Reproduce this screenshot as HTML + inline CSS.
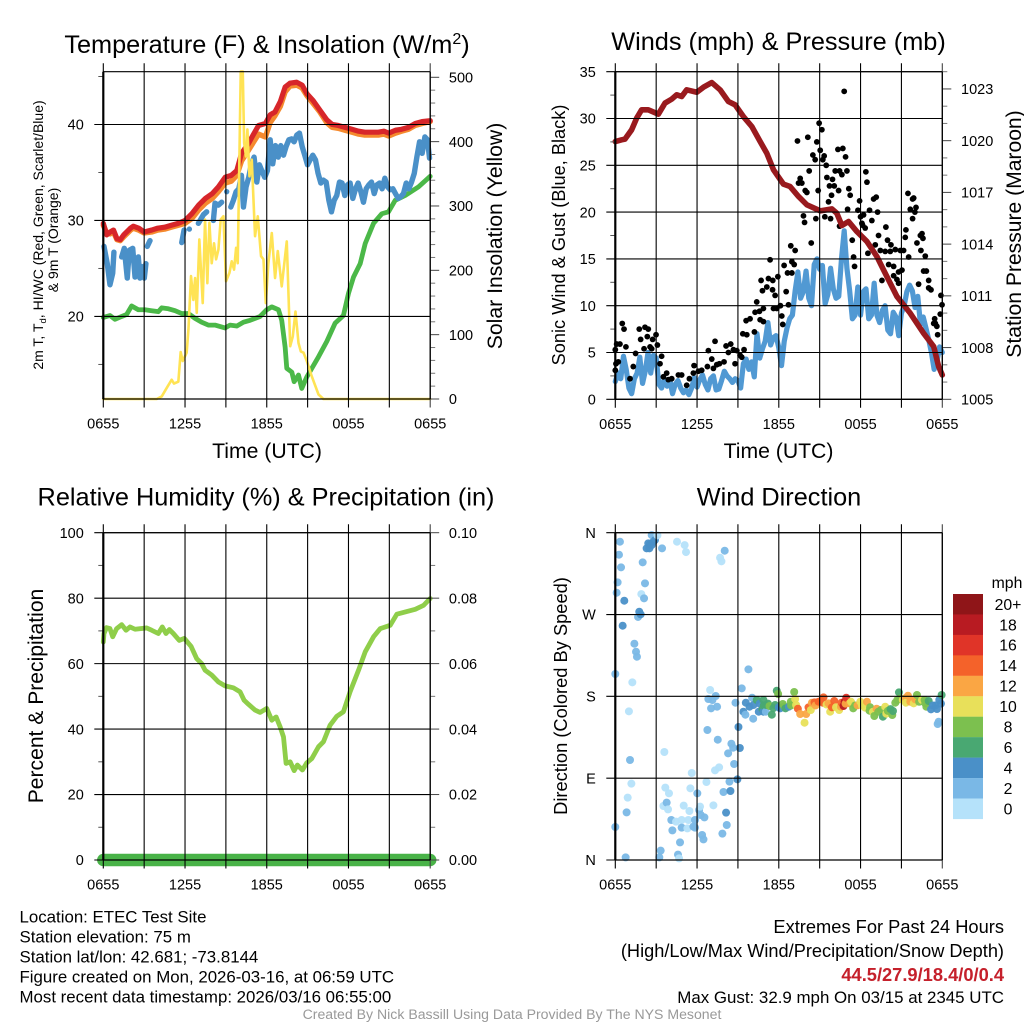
<!DOCTYPE html>
<html lang="en">
<head>
<meta charset="utf-8">
<title>ETEC Test Site Meteogram</title>
<style>
html,body{margin:0;padding:0;background:#fff}
svg{display:block}
text{font-family:"Liberation Sans",Arial,sans-serif;fill:#000}
</style>
</head>
<body>
<svg id="chart" xmlns="http://www.w3.org/2000/svg" width="1024" height="1024" viewBox="0 0 1024 1024">
<rect x="0" y="0" width="1024" height="1024" fill="#fff"/>
<g id="p1"></g>
<g id="p2"></g>
<g id="p3"></g>
<g id="p4"></g>
<g id="legend"></g>

<text x="267" y="53" font-size="25.3" text-anchor="middle">Temperature (F) &amp; Insolation (W/m<tspan dy="-9" font-size="16">2</tspan><tspan dy="9">)</tspan></text>
<text x="778.5" y="50" font-size="25.3" text-anchor="middle">Winds (mph) &amp; Pressure (mb)</text>
<text x="266" y="505.5" font-size="25.3" text-anchor="middle">Relative Humidity (%) &amp; Precipitation (in)</text>
<text x="779" y="505.5" font-size="25.3" text-anchor="middle">Wind Direction</text>

<text x="267" y="458" font-size="21.2" text-anchor="middle">Time (UTC)</text>
<text x="778.5" y="458" font-size="21.2" text-anchor="middle">Time (UTC)</text>

<text transform="translate(43 235) rotate(-90)" font-size="14" text-anchor="middle">2m T, T<tspan dy="3" font-size="9.5">d</tspan><tspan dy="-3">, HI/WC (Red, Green, Scarlet/Blue)</tspan></text>
<text transform="translate(58 240) rotate(-90)" font-size="14" text-anchor="middle">&amp; 9m T (Orange)</text>
<text transform="translate(502 236) rotate(-90)" font-size="21.2" text-anchor="middle">Solar Insolation (Yellow)</text>
<text transform="translate(565 235) rotate(-90)" font-size="18.2" text-anchor="middle">Sonic Wind &amp; Gust (Blue, Black)</text>
<text transform="translate(1021 234) rotate(-90)" font-size="21.1" text-anchor="middle">Station Pressure (Maroon)</text>
<text transform="translate(43 696) rotate(-90)" font-size="21.1" text-anchor="middle">Percent &amp; Precipitation</text>
<text transform="translate(567 696) rotate(-90)" font-size="18.3" text-anchor="middle">Direction (Colored By Speed)</text>

<g font-size="16.85">
<text x="19.5" y="922.5">Location: ETEC Test Site</text>
<text x="19.5" y="942.5">Station elevation: 75 m</text>
<text x="19.5" y="962.5">Station lat/lon: 42.681; -73.8144</text>
<text x="19.5" y="982.5">Figure created on Mon, 2026-03-16, at 06:59 UTC</text>
<text x="19.5" y="1002.5">Most recent data timestamp: 2026/03/16 06:55:00</text>
</g>
<g text-anchor="end">
<text x="1004" y="933" font-size="18.3">Extremes For Past 24 Hours</text>
<text x="1004" y="957" font-size="18.2">(High/Low/Max Wind/Precipitation/Snow Depth)</text>
<text x="1004" y="981" font-size="18.3" font-weight="bold" style="fill:#c5202b">44.5/27.9/18.4/0/0.4</text>
<text x="1004" y="1003" font-size="16.9">Max Gust: 32.9 mph On 03/15 at 2345 UTC</text>
</g>
<text x="512" y="1019" font-size="14.1" text-anchor="middle" style="fill:#999">Created By Nick Bassill Using Data Provided By The NYS Mesonet</text>
</svg>

<script>
// ---------- tick values ----------
const timeTicks = [0,3,6,9,12,15,18,21,24];
const timeLabelHours = [0,6,12,18,24];
const timeLabels = ['0655','1255','1855','0055','0655'];
const tempTicks = [20,30,40];
const tempMinorTicks = [15,25,35,45];
const solarTicks = [0,100,200,300,400,500];
const solarMinorTicks = [20,40,60,80,120,140,160,180,220,240,260,280,320,340,360,380,420,440,460,480];
const windTicks = [0,5,10,15,20,25,30,35];
const windMinorTicks = [2.5,7.5,12.5,17.5,22.5,27.5,32.5];
const pressureTicks = [1005,1008,1011,1014,1017,1020,1023];
const pressureMinorTicks = [1006,1007,1009,1010,1012,1013,1015,1016,1018,1019,1021,1022,1024];
const rhTicks = [0,20,40,60,80,100];
const rhMinorTicks = [10,30,50,70,90];
const precipTicks = [0,0.02,0.04,0.06,0.08,0.10];
const precipTickLabels = ['0.00','0.02','0.04','0.06','0.08','0.10'];
const precipMinorTicks = [0.01,0.03,0.05,0.07,0.09];
const dirTicks = [0,90,180,270,360];
const dirTickLabels = ['N','E','S','W','N'];

// ---------- temperature panel ----------
const tempHours = [0,.25,.5,.75,1,1.25,1.5,2,2.2,2.6,3,3.55,4,4.5,5,5.5,6,6.5,7,7.5,8,8.45,8.95,9.4,9.8,10.15,10.65,11,11.4,11.9,12.25,12.6,13,13.35,13.7,14.2,14.6,14.95,15.4,15.9,16.4,16.8,17.25,17.75,18.25,18.75,19.2,19.7,20.2,20.6,20.95,21.45,21.9,22.4,22.9,23.4,24];
const tempValues = [29.7,28.5,28.8,29,28.1,28,28.5,29.2,29.4,29.2,28.8,29,29.2,29.3,29.5,29.7,30,30.7,31.6,32.3,32.8,33.5,34.5,34.7,35.2,37,38,38.9,39.9,40.1,41,41.3,42.4,43.9,44.3,44.4,44.1,43.2,42.5,41.5,40.5,40,39.9,39.7,39.5,39.3,39.2,39.2,39.2,39.3,39.1,39.4,39.5,39.7,40.1,40.3,40.4];
const temp9mValues = [29.5,28.7,28.6,28.8,28,27.9,28.3,29,29.2,29,28.7,28.8,29,29.1,29.3,29.5,29.7,30.2,31.1,31.8,32.3,33,33.9,34.1,34.7,36.2,37.3,38.1,39,38.7,40.2,40.9,41.9,43.4,44,44.1,43.8,43,42.2,41.3,40.2,39.7,39.6,39.4,39.2,39,38.9,38.9,38.9,39,38.8,39.1,39.3,39.5,39.9,40.1,40.3];
const dewHours = [0,.49,.86,1.35,1.71,2.08,2.57,3.06,3.55,4.04,4.29,4.78,5.27,5.76,6.25,6.74,7.22,7.71,8.2,8.94,9.31,9.8,10.29,10.78,11.51,12,12.37,12.86,13.1,13.35,13.47,13.84,14.01,14.33,14.57,14.94,15.31,15.8,16.41,17.02,17.63,18,18.37,18.86,19.23,19.84,20.45,20.94,21.43,22.16,23.14,24];
const dewValues = [19.9,20.1,19.7,20,20.2,21.1,20.7,20.7,20.6,20.5,20.9,20.8,20.6,20.3,20.3,19.8,19.4,19.1,19.1,18.8,19.1,19,19.4,19.6,20,20.7,21,20.7,19.6,16.8,14.6,14.2,13.2,13.9,12.5,13.7,14.6,15.8,17.4,19.3,20.1,22.4,24.1,25.5,27.6,29.7,30.7,30.9,32.1,32.6,33.5,34.6];
const chillHours = [.05,.29,.49,.69,.78,null,1.35,1.54,1.76,1.91,2.16,2.33,2.57,2.69,2.82,3.01,3.13,null,3.23,3.43,null,5.76,5.93,null,6.32,null,6.98,7.35,7.59,null,8.08,8.2,8.45,8.69,null,9.06,null,
9.36,9.55,9.75,9.95,10.14,10.29,10.48,10.68,10.87,11.07,11.27,11.46,11.66,11.85,12.05,12.25,12.44,12.64,12.84,13.03,13.23,13.42,13.62,13.82,14.01,14.21,14.4,14.6,14.79,14.99,15.18,15.38,15.58,15.77,15.97,16.16,16.36,16.56,16.75,16.95,17.14,17.34,17.53,17.73,17.93,18.12,18.32,18.52,18.71,18.91,19.1,19.3,19.49,19.69,19.89,20.08,20.28,20.47,20.67,20.87,21.06,21.26,21.45,21.65,21.85,22.04,22.24,22.43,22.63,22.83,23.02,23.22,23.41,23.61,23.8,23.95];
const chillValues = [27.3,25.5,23.3,24.5,26.7,null,26.2,27.1,24,26.9,27.1,24.1,26.2,24,25.2,24,25.5,null,27.3,27.9,null,27.7,29,null,29.1,null,29.7,30.6,30.9,null,30,31.8,31.6,31.9,null,33,null,
31.4,32.1,33,33.3,34.7,31.4,33.5,34.5,35.9,36.6,34,35.8,35.1,34.5,35.2,38.4,35.9,37.8,36.6,37.8,36.8,37.7,38.4,38.5,38.2,38.9,39.1,37.7,36.8,35.8,36.3,36.8,36.3,34.9,33.9,34.2,34,32.1,30.9,32.1,32.6,34,33.9,32.6,33.7,33.9,32.3,33.3,33.9,33,31.9,33.3,33.7,34,32.8,33.7,33.9,33.3,34.4,33.5,33.2,33.3,32.8,32.3,32.5,32.8,33.9,33.3,34,34.9,36.6,38.2,37,38.7,38.4,36.5];
const solarHours = [0,3.92,4.29,4.65,5.02,5.19,5.51,5.68,5.83,6.12,6.25,6.44,6.61,6.74,6.86,7.05,7.3,7.47,7.64,7.79,7.96,8.13,8.28,8.45,8.62,8.82,9.01,9.26,9.43,9.6,9.75,9.87,9.99,10.09,10.24,10.34,10.48,10.58,10.73,10.9,11.14,11.34,11.58,11.76,11.93,12.12,12.37,12.61,12.81,13.1,13.47,13.72,13.91,14.11,14.33,14.5,14.7,14.94,15.31,15.8,16.16,24];
const solarValues = [0,0,4,17,30,24,27,73,59,72,108,191,154,188,134,248,149,279,180,274,211,242,217,232,279,284,183,196,214,201,235,211,372,509,509,398,377,419,346,372,253,284,222,217,149,211,258,188,230,175,245,82,97,136,87,74,72,59,35,7,0,0];

// ---------- winds panel ----------
const sonicValues = [1.9,2.8,2.2,4.6,3.2,1.2,.6,2.2,2.8,4.5,1.7,3,5,2.8,4.7,4.4,1.6,1.2,2.2,1.4,2.1,.6,1.6,2,1.2,.7,1,.5,1.2,2.3,1.3,2.1,2.6,1.6,1,2.2,2.5,1,1.1,2,3,2.5,2.2,1.8,2.2,2,1.2,3.8,4.3,3.2,4,2.4,7,4.4,5.4,6.2,8.2,5.8,6.6,6.8,5.5,3.6,6.2,7.6,8.6,9,11.6,13.6,10.8,11.5,13.7,10.8,10,14.4,15,13.9,14.3,10.2,11.2,14,11.8,10.8,11,15,18,14,11.6,8.6,9,12,9,11.5,11.8,8.6,9,12.4,9,8.2,9.5,10,7.4,7,9.3,8.8,6.8,9.2,10,11.5,12.2,11.6,9.8,11,8,8.8,7.6,6.4,5,3.2,4,5.6,5];
const sonicHours = sonicValues.map((v,i)=>i*24/(sonicValues.length-1));
const gustHours = [0,.1,.34,.51,.64,.78,.05,.22,0,1.08,1.32,1.49,1.76,1.86,2.11,2.18,2.42,2.35,2.74,2.99,2.55,2.67,3.09,3.4,3.28,3.77,3.53,3.89,4.14,4.63,4.87,5.24,5.44,5.78,5.73,6.1,6.34,6.76,7.32,6.83,7.08,7.45,7.2,7.64,7.98,8.13,8.3,8.47,8.67,8.92,8.79,9.16,9.28,9.45,9.36,9.65,10.21,9.6,9.89,10.38,10.26,10.58,10.87,10.63,10.87,10.7,11.12,10.8,11.24,11.56,11.54,11.93,11.36,11.73,12.54,11.61,11.85,12.12,12.71,12.22,12.29,12.39,12.64,12.96,12.96,13.13,12.88,13.2,13.37,14.13,13.57,13.45,13.69,14.23,13.94,14.06,14.79,14.5,14.67,15.04,15.33,15.23,14.96,15.16,15.48,14.89,15.53,15.94,16.14,16.34,16.7,16.46,16.63,17,16.9,15.72,16.07,16.39,15.87,15.65,13.81,13.89,14.72,14.38,15.38,15.8,16.8,17.14,17.24,17.05,16.46,17.39,17.49,17.56,17.93,17.81,18,18.22,18.1,18.34,18.15,18.39,18.47,18.66,18.83,18.96,19.15,19.25,19.86,19.32,19.98,20.23,19.08,19.45,19.81,20.55,20.18,18.54,20.92,21.16,21.53,21.28,21.33,21.48,21.82,21.9,21.65,22.07,21.99,21.82,22.14,22.39,22.51,22.58,22.43,22.75,20.06,20.43,21.04,20.79,19.57,20.43,20.67,20.79,22.63,22.83,23,22.26,23,23.17,23.9,23.98,23.85,23.44,23.37,23.49,23.66,23.6];
const gustValues = [5.3,5.9,5.9,8.1,7.5,5.6,3.8,4,3.1,2.2,3.5,4.9,7.5,6.4,5.4,7.7,7.5,6.7,6.4,6.9,5.6,5.4,5.8,4.6,3.8,2.8,2.4,2.1,2.2,2.6,2.6,1.5,2.2,3.6,2.8,3,3.1,3.5,6.2,5.2,4.3,3.7,3.3,3.8,4,5.7,5,5.9,5.3,5.2,3.8,4.7,4.5,5.3,7,6.9,7.2,8.4,8.6,10.4,9.3,9.4,9.7,8.5,8.3,12.7,12,11.6,12.9,12.7,11.7,13.1,14.9,11.1,11.5,9.7,9.7,10,10.1,8.9,8,14.3,13.5,13.5,14.7,14.4,16.4,15.9,27.6,28,23.6,23.1,23.1,24.4,22.3,22.1,27.5,26.1,25.6,26.6,26,25.6,29.5,28.8,25,22.3,23.7,23.5,24.4,26.7,26.8,24.4,24,24.4,25.9,22.8,22.8,22.3,21.8,21.1,19.6,18.9,19.3,16.7,19.5,19.3,32.9,22.5,21.8,20.3,18.5,17,15.2,14.2,21.2,20.2,19.5,19.7,18.8,18.3,18.6,24.3,23.2,20.2,19.1,21.4,21.6,20,18.4,17.5,17,16.5,16.5,15.9,15.8,16,15.8,15.6,15.9,15.9,15.2,17.3,18.1,22,21.4,21.5,20.3,20.5,20,19.3,16.7,17.5,17.7,17.2,15.9,15.3,14.4,14.2,13.8,13.6,12.7,13.2,12.8,12.4,13.7,13.7,12.7,12.3,11.9,11.7,11.1,10.1,9.1,8.6,8.1,8.1,6.9,7.8];
const pressureHours = [0,.47,.71,1.2,1.57,1.93,2.42,3.16,3.65,4.14,4.51,4.87,5.24,5.98,6.47,7.08,7.69,8.3,8.79,9.4,10.02,10.63,11.12,11.61,12.34,12.83,13.45,14.06,15.04,15.9,16.26,16.63,17.12,17.73,18.47,19.2,19.69,20.18,20.67,21.65,22.63,23.37,23.73,24];
const pressureValues = [1019.95,1020.05,1020.09,1020.63,1021.31,1021.79,1021.79,1021.54,1022.18,1022.41,1022.66,1022.56,1022.95,1022.81,1023.1,1023.37,1022.95,1022.27,1022.08,1021.4,1020.82,1019.95,1019.27,1018.31,1017.48,1017.34,1016.76,1016.28,1015.93,1016.04,1015.79,1015.08,1015.31,1014.73,1014.15,1013.28,1012.5,1011.73,1010.96,1009.99,1008.83,1008.06,1006.9,1006.41];

// ---------- humidity / precipitation panel ----------
const rhHours = [0,.05,.24,.49,.69,.98,1.35,1.67,1.96,2.33,3.18,3.55,4.04,4.33,4.6,4.85,5.14,5.58,5.95,6.44,6.86,7.22,7.47,7.96,8.45,8.94,9.55,10.04,10.34,10.65,11.14,11.51,12,12.37,12.69,12.98,13.23,13.42,13.72,14.01,14.25,14.62,14.94,15.31,15.8,16.16,16.65,17.14,17.63,18.12,18.74,19.23,19.84,20.33,21.06,21.55,22.9,23.51,24];
const rhValues = [66.6,69.2,71,70.7,68.2,70.7,71.9,70.2,71.2,70.5,70.9,70.2,69.2,71.2,69.2,70.4,69.2,67.1,67.7,65.3,61.5,60,58,56.5,54.4,53.2,52.6,51.4,48.8,47.6,45.8,45.1,46.3,42.7,43.7,40.7,37.6,29.5,30,27.3,29,27.5,29.7,31,34.6,36.1,41.2,43.9,45.3,51.4,58,63.6,68.2,70.7,71.7,75.1,76.6,77.8,79.9];
const precipHours = [0,6,12,18,24];
const precipValues = [0,0,0,0,0];

// ---------- wind direction panel ----------
const dirHours = [.34,.27,.42,.17,.1,.66,.54,0,1.25,1,1.08,1.18,.91,.83,0,.76,1.76,1.86,1.67,2.01,2.18,1.91,2.11,1.4,1.52,1.59,2.67,3.09,2.91,2.79,2.42,2.55,2.3,2.67,2.5,2.91,3.43,4.53,5.09,5.19,8.03,7.69,7.79,3.6,5.61,7.32,7.62,6.69,5.51,3.67,3.94,6.02,3.77,3.53,3.87,5.02,5.44,6.22,7.2,6.15,6.27,6.54,8.13,4.11,4.46,4.87,5.36,5.85,4.19,4.87,5.29,5.73,5.85,6.37,6.47,4.75,7.86,8.18,3.33,3.23,4.6,4.68,6.96,7.37,6.83,7.13,7.03,7.47,6.76,7.52,8.52,8.65,9.14,8.28,8.72,8.38,8.96,7.94,8.45,9.04,9.77,9.28,8.82,9.58,9.4,9.55,10.12,10.04,9.85,10.14,10.38,10.87,11.05,10.53,10.87,10.8,11.07,11.32,11.49,11.85,11.95,11.73,12.1,12.29,12.49,12.74,12.88,13.13,13.27,13.4,13.57,13.89,14.01,14.18,14.35,14.43,14.62,14.92,15.28,15.23,15.65,15.77,15.9,16.07,16.43,16.56,16.75,16.83,16.95,17.19,17.46,17.78,17.98,18.34,18.47,18.66,18.91,19.01,19.18,19.64,19.81,19.89,20.33,20.38,20.55,20.82,20.92,21.33,21.48,21.65,21.9,22.14,22.02,22.51,22.75,23,22.83,23.17,23.61,23.78,23.95,23.73,23.66,
10.6,10.9,11.2,11.6,12,12.4,12.9,13.2,14.7,15.1,15.5,15.8,16.2,16.6,16.9,17.3,17.6,18.1,18.7,19.3,19.5,20,20.2,20.7,21.1,21.3,21.8,22.3,22.7,23.3,23.5,23.9];
const dirValues = [350.1,335.8,321.9,305.4,294,285.2,257.7,204.6,195.4,163.5,110,84,68.6,52.4,36.3,2.9,273.1,270.2,267.3,327.4,304.3,292.5,287.8,237.9,229.1,223.6,357.4,357.1,353.8,350.1,348.3,347.5,342.8,346.4,342.8,351.9,342.8,350.1,346.4,338.7,340.2,332.5,328.5,118.8,95.7,98.6,101.9,85.8,78.8,79.6,73.3,73.3,63.1,59.4,55.7,59.8,53.9,58.7,60.1,55,49.5,46.9,52.1,44,42.2,44,44,44,32.6,35.6,34.8,36.7,35.6,27.5,22.7,19.4,29,38.5,10.3,2.9,5.9,1.8,187,180.4,177.1,176,166.8,168.6,143,132.3,127.9,123.5,123.2,117.3,105.6,86.2,88.7,74.8,75.9,146.3,209.7,188.8,173,173,163.1,159.8,155.4,178.5,168.6,170.5,176,176,163.1,163.1,163.1,165.7,170.5,169.4,159.8,186.2,182.6,170.5,166.8,171.6,166.8,168.6,174.1,184.8,170.5,166.4,160.6,151,160.6,167.9,165,173,173.4,174.1,178.9,173,172.3,163.1,167.9,174.9,165,168.6,169.4,174.1,178.5,172.3,166.8,170.1,174.1,167.5,174.1,164.2,163.1,158.4,166.4,157.6,168.6,160.9,159.5,163.9,173,184.4,177.8,173,180.7,174.1,172.3,181.5,176.7,176,172.3,174.9,168.6,165.7,166.1,176,181.5,152.1,149.6,
172,170,172,167,168,169,170,177,170,175,171,170,168,173,172,174,170,170,168,163,165,164,166,176,176,178,176,174,176,170,170,172];
const dirSpeeds = [3,3,3,3,3,5,5,3,1,1,3,1,1,3,3,3,5,5,3,3,3,1,3,3,3,3,3,1,3,5,5,5,5,5,5,5,3,1,1,1,3,1,1,1,1,1,1,1,1,1,1,3,3,1,1,1,1,1,1,3,3,3,5,3,1,1,1,3,3,3,1,3,3,3,3,3,3,3,3,3,3,1,1,3,3,3,3,3,3,3,3,3,5,3,3,3,5,3,5,5,3,3,3,5,5,3,3,3,5,5,7,7,3,5,5,7,7,9,7,7,9,7,5,9,7,5,9,9,11,15,13,11,13,15,11,13,15,15,15,15,13,11,15,15,11,13,19,19,17,13,9,13,11,11,13,9,11,9,13,7,11,11,9,7,9,7,9,11,13,13,11,9,13,11,9,7,9,5,5,5,7,3,3,
5,7,7,7,5,9,9,11,13,15,11,13,11,15,13,11,9,11,9,9,9,9,7,9,11,13,13,9,9,5,5,5];

const legendColors = ['#b5e2fa','#7ab8e6','#4a90c8','#49a872','#7cc04f','#e8e05a','#faa644','#f4622a','#e03428','#b81b22','#8f1518'];
const legendLabels = ['0','2','4','6','8','10','12','14','16','18','20+'];

// ---------- axis functions ----------
const SVGNS = 'http://www.w3.org/2000/svg';
const GEOM = {
  p1:{l:103.3,r:430.2,t:71.7,b:399},
  p2:{l:615.3,r:942.3,t:71.7,b:399.3},
  p3:{l:103.3,r:430.2,t:532.7,b:860},
  p4:{l:615.3,r:942.3,t:532.7,b:860}
};
function xScale(g,h){return g.l+(h/24)*(g.r-g.l);}
function yScale(g,lo,hi,v){return g.b-((v-lo)/(hi-lo))*(g.b-g.t);}
const tempY  = v => yScale(GEOM.p1,11.4,45.5,v);
const solarY = v => yScale(GEOM.p1,0,508.7,v);
const windY  = v => yScale(GEOM.p2,0,35,v);
const presY  = v => yScale(GEOM.p2,1005,1024,v);
const rhY    = v => yScale(GEOM.p3,0,100,v);
const precY  = v => yScale(GEOM.p3,0,0.1,v);
const dirY   = v => yScale(GEOM.p4,0,360,v);

function mk(parent,tag){const el=document.createElementNS(SVGNS,tag);parent.appendChild(el);return el;}

function rule(parent,name,x1,y1,x2,y2,w,color){
  const el=mk(parent,'line');
  
  
  el.setAttribute('x1',x1);el.setAttribute('y1',y1);el.setAttribute('x2',x2);el.setAttribute('y2',y2);
  el.setAttribute('stroke',color||'#000');el.setAttribute('stroke-width',w||1.1);
  return el;
}
function label(parent,name,x,y,str,anchor,size){
  const el=mk(parent,'text');
  
  
  el.setAttribute('x',x);el.setAttribute('y',y);
  el.setAttribute('text-anchor',anchor);el.setAttribute('font-size',size||14.5);
  el.textContent=str;
  return el;
}
function series(parent,name,g,hours,values,yFn,color,width){
  let d='',pen=false;
  for(let i=0;i<hours.length;i++){
    if(hours[i]===null||values[i]===null){pen=false;continue;}
    const x=xScale(g,hours[i]).toFixed(2),y=yFn(values[i]).toFixed(2);
    const nextGap=(i+1>=hours.length||hours[i+1]===null);
    d+=(pen?'L':'M')+x+' '+y+((!pen&&nextGap)?'L'+x+' '+y:'');
    pen=true;
  }
  const el=mk(parent,'path');
  
  
  el.setAttribute('d',d);el.setAttribute('fill','none');
  el.setAttribute('stroke',color);el.setAttribute('stroke-width',width);
  el.setAttribute('stroke-linecap','round');el.setAttribute('stroke-linejoin','round');
  return el;
}
function frame(parent,g){
  timeTicks.forEach(h=>{
    const x=xScale(g,h);
    rule(parent,'time-gridline',x,g.t-8.5,x,g.b+8.5,1.1,h===24?'#444':'#000');
  });
  rule(parent,'plot-left-border',g.l,g.t,g.l,g.b,2.2);
  rule(parent,'plot-top-border',g.l,g.t,g.r,g.t,1.1);
  rule(parent,'plot-bottom-border',g.l,g.b,g.r,g.b,1.3);
  rule(parent,'plot-right-border',g.r,g.t,g.r,g.b,1.3);
  timeLabels.forEach((t,i)=>{
    label(parent,'time-tick-label',xScale(g,timeLabelHours[i]),g.b+29.5,t,'middle');
  });
}
function leftAxis(parent,g,major,minor,yFn,labels){
  major.forEach((v,i)=>{
    const y=yFn(v);
    rule(parent,'y-gridline',g.l-9,y,g.r,y,1.1);
    label(parent,'left-tick-label',g.l-19.5,y+5.2,labels?labels[i]:String(v),'end');
  });
  minor.forEach(v=>{rule(parent,'left-minor-tick',g.l-5,yFn(v),g.l,yFn(v),1,'#555');});
}
function rightAxis(parent,g,major,minor,yFn,labels){
  major.forEach((v,i)=>{
    const y=yFn(v);
    rule(parent,'right-major-tick',g.r,y,g.r+9,y,1,'#444');
    label(parent,'right-tick-label',g.r+18.7,y+5.2,labels?labels[i]:String(v),'start');
  });
  minor.forEach(v=>{rule(parent,'right-minor-tick',g.r,yFn(v),g.r+5,yFn(v),1,'#777');});
}

// ---------- panel 1 ----------
(function(){
  const g=GEOM.p1,p=document.getElementById('p1');
  series(p,'temp-9m-line',g,tempHours,temp9mValues,tempY,'#f58a2e',5.4);
  series(p,'temp-2m-line',g,tempHours,tempValues,tempY,'#d7262a',5.2);
  series(p,'dewpoint-line',g,dewHours,dewValues,tempY,'#4bb848',4.8);
  series(p,'wind-chill-line',g,chillHours,chillValues,tempY,'#4a90c8',5.4);
  series(p,'solar-line',g,solarHours,solarValues,solarY,'#ffe354',2.6);
  leftAxis(p,g,tempTicks,tempMinorTicks,tempY);
  rightAxis(p,g,solarTicks,solarMinorTicks,solarY);
  frame(p,g);
})();

// ---------- panel 2 ----------
(function(){
  const g=GEOM.p2,p=document.getElementById('p2');
  series(p,'sonic-wind-line',g,sonicHours,sonicValues,windY,'#5199d3',5.2);
  gustHours.forEach((h,i)=>{
    const c=mk(p,'circle');
    
    
    c.setAttribute('cx',xScale(g,h));
    c.setAttribute('cy',windY(gustValues[i]));
    c.setAttribute('r',2.9);
    c.setAttribute('fill','#000');
  });
  series(p,'pressure-line',g,pressureHours,pressureValues,presY,'#991a1e',5.6);
  leftAxis(p,g,windTicks,windMinorTicks,windY);
  rightAxis(p,g,pressureTicks,pressureMinorTicks,presY);
  frame(p,g);
})();

// ---------- panel 3 ----------
(function(){
  const g=GEOM.p3,p=document.getElementById('p3');
  series(p,'humidity-line',g,rhHours,rhValues,rhY,'#8fce4a',4.8);
  series(p,'precipitation-line',g,precipHours,precipValues,precY,'#49b348',12.5);
  leftAxis(p,g,rhTicks,rhMinorTicks,rhY);
  rightAxis(p,g,precipTicks,precipMinorTicks,precY,precipTickLabels);
  frame(p,g);
})();

// ---------- panel 4 ----------
(function(){
  const g=GEOM.p4,p=document.getElementById('p4');
  const order=dirHours.map((h,i)=>i).sort((a,b)=>dirHours[a]-dirHours[b]);
  order.forEach(i=>{
    const bin=Math.min(Math.floor(dirSpeeds[i]/2),legendColors.length-1);
    const c=mk(p,'circle');
    
    
    c.setAttribute('cx',xScale(g,dirHours[i]));
    c.setAttribute('cy',dirY(dirValues[i]));
    c.setAttribute('r',4);
    c.setAttribute('fill',legendColors[bin]);
    c.setAttribute('fill-opacity','0.95');
  });
  leftAxis(p,g,dirTicks,[],dirY,dirTickLabels);
  frame(p,g);
})();

// ---------- legend ----------
(function(){
  const p=document.getElementById('legend');
  label(p,'legend-units',1007,588,'mph','middle',15.8);
  for(let k=0;k<legendColors.length;k++){
    const idx=legendColors.length-1-k;
    const r=mk(p,'rect');
    
    
    r.setAttribute('x',953);
    r.setAttribute('y',594+k*20.45);
    r.setAttribute('width',30);
    r.setAttribute('height',20.6);
    r.setAttribute('fill',legendColors[idx]);
    label(p,'legend-label',1008,594+k*20.45+15.8,legendLabels[idx],'middle',15.8);
  }
})();
</script>
</body>
</html>
